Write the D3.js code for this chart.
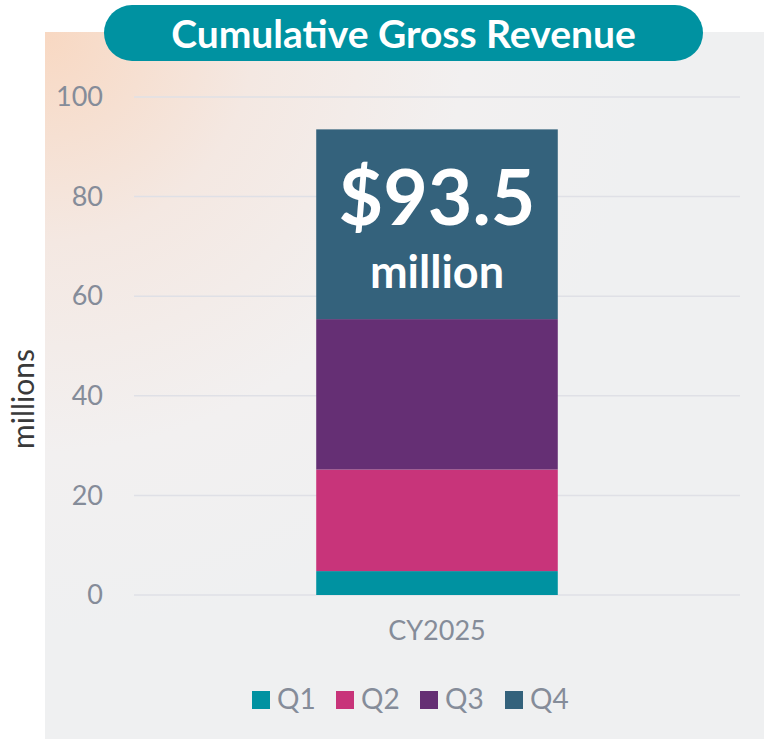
<!DOCTYPE html>
<html>
<head>
<meta charset="utf-8">
<script src="https://cdn.jsdelivr.net/npm/d3@7"></script>
<style>
  body { margin: 0; background: #fff; }
  text { font-family: Lato, "Open Sans", sans-serif; }
</style>
</head>
<body>
<div class="chart"></div>
<script>
var svgWidth = 764;
var svgHeight = 739;

// data
var categories = ["CY2025"];
var quarters = ["Q1", "Q2", "Q3", "Q4"];
var quarterValues = [4.8, 20.4, 30.2, 38.1];
var quarterColors = ["#0092A1", "#C8347A", "#652F74", "#34627C"];
var yTicks = [0, 20, 40, 60, 80, 100];
var totalLabel = "$93.5";

var margin = { top: 97, right: 24, bottom: 144, left: 134 };
var width = svgWidth - margin.left - margin.right;
var height = svgHeight - margin.top - margin.bottom;

var svg = d3.select(".chart")
    .append("svg")
    .attr("width", svgWidth)
    .attr("height", svgHeight);

// background panel with a soft peach glow in the top-left corner
var defs = svg.append("defs");
var grad = defs.append("radialGradient")
    .attr("id", "bgGlow")
    .attr("gradientUnits", "userSpaceOnUse")
    .attr("cx", 45).attr("cy", 32).attr("r", 600);
grad.append("stop").attr("offset", "0%").attr("stop-color", "#f8d8c2");
grad.append("stop").attr("offset", "35%").attr("stop-color", "#f4e8e2");
grad.append("stop").attr("offset", "70%").attr("stop-color", "#f2f0f0");
grad.append("stop").attr("offset", "100%").attr("stop-color", "#eff0f1");

svg.append("rect")
    .attr("x", 45).attr("y", 32)
    .attr("width", svgWidth - 45).attr("height", svgHeight - 32)
    .attr("fill", "url(#bgGlow)");

var chartGroup = svg.append("g")
    .attr("transform", `translate(${margin.left}, ${margin.top})`);

var xScale = d3.scaleBand()
    .domain(categories)
    .range([0, width])
    .paddingInner(0.43)
    .paddingOuter(0.43);

var yScale = d3.scaleLinear()
    .domain([0, 100])
    .range([height, 0]);

// gridlines
chartGroup.selectAll(".grid")
    .data(yTicks)
    .enter()
    .append("line")
    .attr("x1", 0)
    .attr("x2", width)
    .attr("y1", d => yScale(d))
    .attr("y2", d => yScale(d))
    .attr("stroke", "#dfe0e6")
    .attr("stroke-width", 1.5);

// y axis labels
var leftAxis = d3.axisLeft(yScale).tickValues(yTicks).tickSize(0).tickPadding(31);
var yAxis = chartGroup.append("g").call(leftAxis);
yAxis.select(".domain").remove();
yAxis.selectAll("text")
    .attr("fill", "#858c99")
    .style("font-size", "27px");

// x axis label
var bottomAxis = d3.axisBottom(xScale).tickSize(0).tickPadding(26);
var xAxis = chartGroup.append("g")
    .attr("transform", `translate(0, ${height})`)
    .call(bottomAxis);
xAxis.select(".domain").remove();
xAxis.selectAll("text")
    .attr("fill", "#858c99")
    .style("font-size", "27px");

// stacked bar
var stackRows = categories.map(function (c) {
    var row = { category: c };
    quarters.forEach((q, i) => row[q] = quarterValues[i]);
    return row;
});
var series = d3.stack().keys(quarters)(stackRows);

chartGroup.selectAll(".layer")
    .data(series)
    .enter()
    .append("g")
    .attr("fill", (d, i) => quarterColors[i])
    .selectAll("rect")
    .data(d => d)
    .enter()
    .append("rect")
    .attr("x", d => xScale(d.data.category))
    .attr("y", d => yScale(d[1]))
    .attr("width", xScale.bandwidth())
    .attr("height", d => yScale(d[0]) - yScale(d[1]));

// total inside the top segment
var cx = xScale(categories[0]) + xScale.bandwidth() / 2;
chartGroup.append("text")
    .attr("x", cx)
    .attr("y", 128)
    .attr("text-anchor", "middle")
    .attr("fill", "#fff")
    .style("font-size", "77px")
    .style("font-weight", "bold")
    .text(totalLabel);
chartGroup.append("text")
    .attr("x", cx)
    .attr("y", 191)
    .attr("text-anchor", "middle")
    .attr("fill", "#fff")
    .style("font-size", "45px")
    .style("font-weight", "bold")
    .text("million");

// y axis title
svg.append("text")
    .attr("transform", "translate(34, 399) rotate(-90)")
    .attr("text-anchor", "middle")
    .attr("fill", "#3a3a3a")
    .style("font-size", "30px")
    .text("millions");

// title pill
svg.append("rect")
    .attr("x", 104).attr("y", 5)
    .attr("width", 599).attr("height", 56)
    .attr("rx", 28)
    .attr("fill", "#0092A1");
svg.append("text")
    .attr("x", 403.5)
    .attr("y", 48)
    .attr("text-anchor", "middle")
    .attr("fill", "#fff")
    .style("font-size", "39px")
    .style("font-weight", "bold")
    .text("Cumulative Gross Revenue");

// legend
var legendX = [252, 336, 420, 505];
var legend = svg.append("g");
var items = legend.selectAll("g")
    .data(quarters)
    .enter()
    .append("g")
    .attr("transform", (d, i) => `translate(${legendX[i]}, 691)`);
items.append("rect")
    .attr("width", 18).attr("height", 18)
    .attr("fill", (d, i) => quarterColors[i]);
items.append("text")
    .attr("x", 25)
    .attr("y", 18)
    .attr("fill", "#858c99")
    .style("font-size", "28px")
    .text(d => d);
</script>
</body>
</html>
